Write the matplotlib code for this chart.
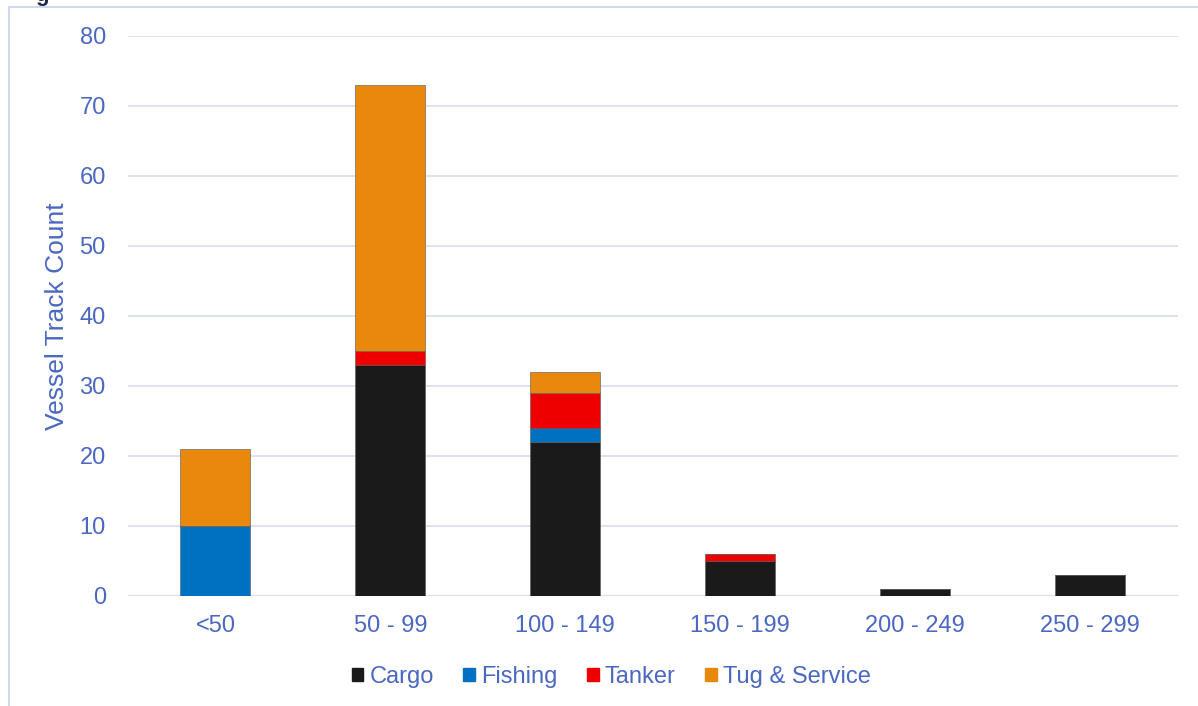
import matplotlib.pyplot as plt
import numpy as np
from matplotlib.lines import Line2D

plt.rcParams['font.family'] = ['Liberation Sans', 'DejaVu Sans']

# Vessel length bins and track counts per vessel type
length_bins = ['<50', '50 - 99', '100 - 149', '150 - 199', '200 - 249', '250 - 299']
cargo = [0, 33, 22, 5, 1, 3]
fishing = [10, 0, 2, 0, 0, 0]
tanker = [0, 2, 5, 1, 0, 0]
tug_service = [11, 38, 3, 0, 0, 0]

series = [('Cargo', cargo, '#1a1a1a'),
          ('Fishing', fishing, '#0070c0'),
          ('Tanker', tanker, '#ee0000'),
          ('Tug & Service', tug_service, '#e8890e')]

text_col = '#4a67c2'
grid_col = '#d9def2'

W, H = 1198, 706
fig = plt.figure(figsize=(W / 100, H / 100), dpi=100)
ax = fig.add_axes([128 / W, 110 / H, 1049.5 / W, 560 / H])

x = np.arange(len(length_bins))
bottom = np.zeros(len(length_bins))
for name, vals, col in series:
    vals = np.array(vals, dtype=float)
    ax.bar(x, vals, width=0.4, bottom=bottom, color=col, label=name,
           edgecolor='#555555', linewidth=0.4, zorder=3)
    bottom += vals

ax.set_xlim(-0.5, len(length_bins) - 0.5)
ax.set_ylim(0, 80)
ax.set_yticks(range(0, 81, 10))
ax.set_xticks(x)
ax.set_xticklabels(length_bins)
ax.tick_params(length=0, labelsize=17, labelcolor=text_col)
ax.tick_params(axis='y', pad=16)
ax.tick_params(axis='x', pad=14)
ax.grid(axis='y', color=grid_col, linewidth=1.3, zorder=0)
for s in ax.spines.values():
    s.set_visible(False)
ax.axhline(0, color=grid_col, linewidth=1.6, zorder=2)

fig.text(57 / W, 1 - 316 / H, 'Vessel Track Count', rotation=90, color=text_col,
         fontsize=19, ha='center', va='center')

handles = [plt.Rectangle((0, 0), 1, 1, color=c) for _, _, c in series]
fig.legend(handles, [n for n, _, _ in series], loc='center',
           bbox_to_anchor=(611 / W, 1 - 677 / H), ncol=4, frameon=False,
           fontsize=17, labelcolor=text_col, handlelength=0.5, handleheight=0.5,
           handletextpad=0.25, columnspacing=1.25)

# outer chart frame
fig.add_artist(Line2D([8.5 / W, 8.5 / W], [0, 1 - 7 / H], color='#d0d8ee',
                      linewidth=1.5, transform=fig.transFigure))
fig.add_artist(Line2D([8.5 / W, 1], [1 - 7 / H, 1 - 7 / H], color='#d0d8ee',
                      linewidth=1.5, transform=fig.transFigure))

# heading above the frame, mostly cut off at the top edge
fig.text(35 / W, 1 - 0.5 / H, 'g', fontsize=16, fontweight='bold',
         color='#1f2a4a', ha='left', va='baseline')

fig.savefig('out.png', dpi=100)
